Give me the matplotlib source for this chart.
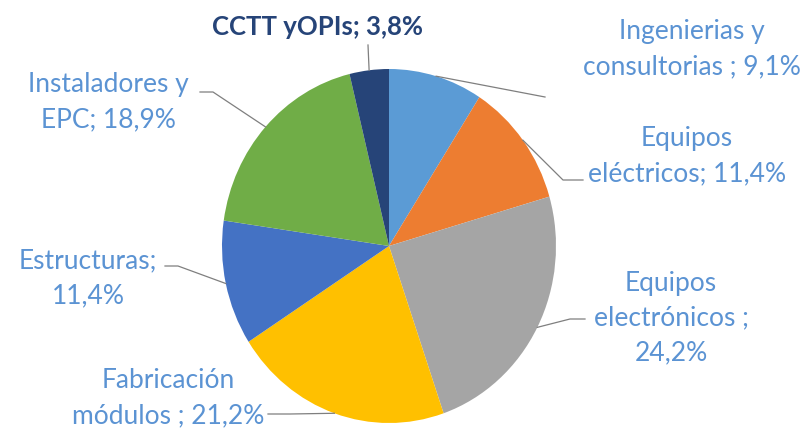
import numpy as np
import matplotlib.pyplot as plt
from matplotlib.lines import Line2D

plt.rcParams['font.family'] = ['Lato', 'DejaVu Sans']

# Share of companies per segment (clockwise from 12 o'clock)
labels = ["Ingenierias y\nconsultorias ; {}",
          "Equipos\neléctricos; {}",
          "Equipos\nelectrónicos ;\n{}",
          "Fabricación\nmódulos ; {}",
          "Estructuras;\n{}",
          "Instaladores y\nEPC; {}",
          "CCTT yOPIs; {}"]
shares = [9.1, 11.4, 24.2, 21.2, 11.4, 18.9, 3.8]
colors = ['#5B9BD5', '#ED7D31', '#A5A5A5', '#FFC000', '#4472C4', '#70AD47', '#264478']

W, H = 809, 429
# label block centres and leader-line anchor points, in pixels from top-left
label_pos = [(692, 49), (687, 156), (671, 318), (168, 398), (88, 278), (108, 102), (317, 27)]
leader_pts = [[(545, 97)],
              [(583, 180), (563, 180)],
              [(585, 319), (570, 319)],
              [(268, 414), (290, 414)],
              [(165, 266), (178, 266)],
              [(200, 92), (213, 92)],
              [(368, 45)]]
text_blue = '#5B93D3'


def px(x, y):
    return x / W, 1 - y / H


def fmt(v):
    return f"{v:.1f}".replace('.', ',') + '%'


fig = plt.figure(figsize=(W / 100, H / 100), dpi=100)

# pie occupies a slightly tall ellipse
left, top, right, bottom = 222, 69, 556, 423
ax = fig.add_axes([left / W, 1 - bottom / H, (right - left) / W, (bottom - top) / H])
wedges, _ = ax.pie(shares, colors=colors, startangle=90, counterclock=False,
                   radius=1, wedgeprops=dict(linewidth=0))
ax.set_aspect('auto')
ax.set_xlim(-1, 1)
ax.set_ylim(-1, 1)
ax.axis('off')

for i, (lab, v) in enumerate(zip(labels, shares)):
    w = wedges[i]
    mid = np.deg2rad((w.theta1 + w.theta2) / 2)
    edge = ax.transData.transform((np.cos(mid), np.sin(mid)))
    edge_fig = fig.transFigure.inverted().transform(edge)

    pts = [px(*p) for p in leader_pts[i]] + [tuple(edge_fig)]
    xs, ys = zip(*pts)
    fig.add_artist(Line2D(xs, ys, transform=fig.transFigure, color='#7F7F7F', lw=0.9))

    is_cctt = i == len(labels) - 1
    fig.text(*px(*label_pos[i]), lab.format(fmt(v)), ha='center', va='center',
             multialignment='center', fontsize=18.5 if is_cctt else 19, linespacing=1.5,
             color='#264478' if is_cctt else text_blue,
             fontweight='bold' if is_cctt else 'normal')

fig.savefig('out.png', dpi=100, facecolor='white')
